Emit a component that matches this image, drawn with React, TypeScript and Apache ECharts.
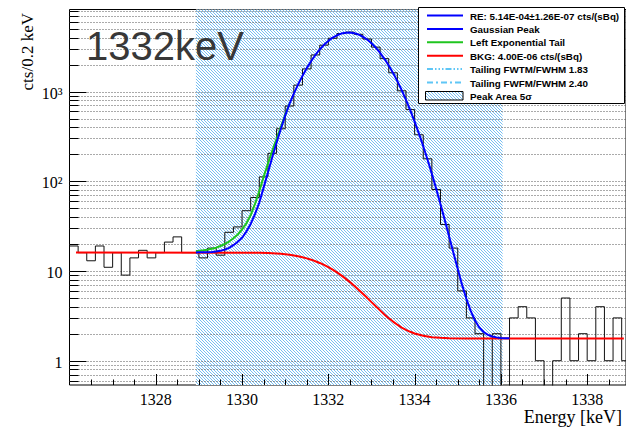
import { useEffect, useRef } from 'react';
import * as echarts from 'echarts';

// Axis ranges (energy in keV, counts per bin on a log scale)
const energyMin = 1326.0;
const energyMax = 1338.9;
const countMin = 0.536;
const countMax = 8222;

// Measured spectrum: 0.2 keV bins starting at 1326.0 keV
const binStart = 1326.0;
const binWidth = 0.2;
const binCounts = [
  19, 16, 13, 19, 11, 16, 9, 14, 17, 14, 16, 21, 24, 16, 16,
  14, 18, 15, 27, 31, 47, 66, 112, 205, 385,
  690, 1180, 1790, 2560, 3290, 3930, 4430, 4600, 4350, 3850,
  3130, 2330, 1620, 1020, 630, 330, 178, 81, 33, 18,
  6, 3, 2, 0, 2, 0,
  3, 4, 3, 1, 0, 1, 5, 1, 2, 1, 4, 1, 3, 1,
];

// Fitted Gaussian peak (on top of background)
const peakEnergy = [
  1328.93, 1329.0, 1329.1, 1329.2, 1329.3, 1329.4, 1329.5, 1329.6, 1329.7, 1329.8, 1329.9,
  1330.0, 1330.1, 1330.2, 1330.3, 1330.4, 1330.5, 1330.6, 1330.7, 1330.8, 1330.9,
  1331.0, 1331.1, 1331.2, 1331.3, 1331.4, 1331.5, 1331.6, 1331.7, 1331.8, 1331.9,
  1332.0, 1332.1, 1332.2, 1332.3, 1332.4, 1332.5, 1332.6, 1332.7, 1332.8, 1332.9,
  1333.0, 1333.1, 1333.2, 1333.3, 1333.4, 1333.5, 1333.6, 1333.7, 1333.8, 1333.9,
  1334.0, 1334.1, 1334.2, 1334.3, 1334.4, 1334.5, 1334.6, 1334.7, 1334.8, 1334.9,
  1335.0, 1335.1, 1335.2, 1335.3, 1335.4, 1335.5, 1335.6, 1335.7, 1335.8, 1335.9,
  1336.0, 1336.1, 1336.2,
];
const peakCounts = [
  16.1, 16.14, 16.17, 16.22, 16.33, 16.5, 16.8, 17.3, 18.1, 19.4, 21.2,
  23.5, 27.5, 33.5, 43, 58, 85, 125, 185, 270, 385,
  540, 730, 950, 1205, 1495, 1825, 2180, 2560, 2945, 3320,
  3675, 3990, 4245, 4430, 4535, 4555, 4480, 4325, 4095, 3800,
  3460, 3090, 2705, 2320, 1955, 1615, 1308, 1038, 809, 618,
  463, 340, 246, 174, 121, 82.7, 55.6, 36.9, 24.3, 15.9,
  10.5, 7.0, 4.9, 3.6, 2.8, 2.35, 2.09, 1.94, 1.86, 1.82,
  1.79, 1.78, 1.78,
];

// Left exponential tail component
const tailEnergy = [
  1328.93, 1329.0, 1329.1, 1329.2, 1329.3, 1329.4, 1329.5, 1329.6, 1329.7, 1329.8, 1329.9,
  1330.0, 1330.1, 1330.2, 1330.3, 1330.4, 1330.5, 1330.6, 1330.7, 1330.8, 1330.9,
  1331.0, 1331.1,
];
const tailCounts = [
  16.7, 16.8, 17.0, 17.3, 17.7, 18.2, 19.0, 20.0, 21.3, 23.2, 25.5,
  29, 34, 42, 56, 78, 112, 158, 218, 298, 405,
  552, 735,
];

// Step background
const bkgEnergy = [
  1326.15, 1330.4, 1330.6, 1330.8, 1330.9, 1331.0, 1331.1, 1331.2, 1331.3, 1331.4,
  1331.5, 1331.6, 1331.7, 1331.8, 1331.9, 1332.0, 1332.1, 1332.2, 1332.3, 1332.4,
  1332.5, 1332.6, 1332.7, 1332.8, 1332.9, 1333.0, 1333.1, 1333.2, 1333.3, 1333.4,
  1333.5, 1333.6, 1333.7, 1333.8, 1333.9, 1334.0, 1334.2, 1334.4, 1334.6, 1334.8,
  1335.2, 1338.85,
];
const bkgCounts = [
  16.1, 16.0, 15.85, 15.65, 15.53, 15.35, 15.14, 14.89, 14.59, 14.23,
  13.83, 13.37, 12.85, 12.29, 11.68, 11.03, 10.35, 9.65, 8.94, 8.22,
  7.52, 6.84, 6.19, 5.58, 5.02, 4.5, 4.04, 3.64, 3.28, 2.98,
  2.73, 2.52, 2.34, 2.21, 2.1, 2.01, 1.9, 1.83, 1.8, 1.78,
  1.77, 1.77,
];

// Integration window (peak area, 5 sigma)
const peakAreaLow = 1328.93;
const peakAreaHigh = 1336.04;

// Axis ticks and labels
const xMajorTicks = [1328, 1330, 1332, 1334, 1336, 1338];
const xTickLabels = ['1328', '1330', '1332', '1334', '1336', '1338'];
const xMinorTicks = [
  1326.5, 1327, 1327.5, 1328.5, 1329, 1329.5, 1330.5, 1331, 1331.5, 1332.5,
  1333, 1333.5, 1334.5, 1335, 1335.5, 1336.5, 1337, 1337.5, 1338.5,
];
const yMajorTicks = [1, 10, 100, 1000];
const yTickLabels = ['1', '10', '10²', '10³'];
const yMinorTicks = [
  0.6, 0.7, 0.8, 0.9,
  2, 3, 4, 5, 6, 7, 8, 9,
  20, 30, 40, 50, 60, 70, 80, 90,
  200, 300, 400, 500, 600, 700, 800, 900,
  2000, 3000, 4000, 5000, 6000, 7000, 8000,
];

// Legend entries
const legendLabels = [
  'RE: 5.14E-04±1.26E-07 cts/(sBq)',
  'Gaussian Peak',
  'Left Exponential Tail',
  'BKG: 4.00E-06 cts/(sBq)',
  'Tailing FWTM/FWHM 1.83',
  'Tailing FWFM/FWHM 2.40',
  'Peak Area 5σ',
];

const BLUE = '#0000ff';
const GREEN = '#1fc51f';
const RED = '#ff0000';
const LIGHT_BLUE = '#5ec6f6';
const SERIF = '"Liberation Serif", "Times New Roman", serif';
const SANS = '"Liberation Sans", Arial, Helvetica, sans-serif';

// Small diagonal hatch tile used for the peak-area fill
function hatchImage(): string {
  const c = document.createElement('canvas');
  c.width = 3;
  c.height = 3;
  const ctx = c.getContext('2d');
  if (ctx) {
    ctx.fillStyle = '#ffffff';
    ctx.fillRect(0, 0, 3, 3);
    ctx.fillStyle = 'rgb(118,190,242)';
    for (let i = 0; i < 3; i++) ctx.fillRect(i, i, 1, 1);
  }
  return c.toDataURL();
}

function buildOption() {
  const hatch = { image: hatchImage(), repeat: 'repeat', imageWidth: 3, imageHeight: 3 };

  const histData: number[][] = binCounts.map((c, i) => [
    +(binStart + i * binWidth).toFixed(2),
    c > 0 ? c : 0.05,
  ]);
  histData.push([
    +(binStart + binCounts.length * binWidth).toFixed(2),
    binCounts[binCounts.length - 1] > 0 ? binCounts[binCounts.length - 1] : 0.05,
  ]);

  const yTickData = [
    ...yMajorTicks.map((v, i) => [energyMin, v, 1, i]),
    ...yMinorTicks.map((v) => [energyMin, v, 0, -1]),
  ];
  const xTickData = [
    ...xMajorTicks.map((v, i) => [v, countMin, 1, i]),
    ...xMinorTicks.map((v) => [v, countMin, 0, -1]),
  ];

  const rowY = (i: number) => 15.5 + i * 13.4;
  const legendGraphics: any[] = [
    {
      type: 'rect',
      shape: { x: 418.5, y: 7.5, width: 206, height: 96 },
      style: { fill: '#ffffff', stroke: '#000000', lineWidth: 1 },
      z: 100,
    },
  ];
  const legendStyles = [
    { stroke: BLUE, lineDash: null },
    { stroke: BLUE, lineDash: null },
    { stroke: GREEN, lineDash: null },
    { stroke: RED, lineDash: null },
    { stroke: LIGHT_BLUE, lineDash: [6, 2, 1.5, 2, 1.5, 2, 1.5, 2] },
    { stroke: LIGHT_BLUE, lineDash: [6, 3, 2, 3] },
  ];
  legendStyles.forEach((s, i) => {
    legendGraphics.push({
      type: 'line',
      shape: { x1: 427, y1: rowY(i), x2: 463, y2: rowY(i) },
      style: { stroke: s.stroke, lineWidth: 2, lineDash: s.lineDash || undefined },
      z: 101,
    });
  });
  legendGraphics.push({
    type: 'rect',
    shape: { x: 425.5, y: 91.5, width: 37.5, height: 8.5 },
    style: { fill: hatch, stroke: '#000000', lineWidth: 1 },
    z: 101,
  });
  legendLabels.forEach((label, i) => {
    legendGraphics.push({
      type: 'text',
      x: 470,
      y: rowY(i) + 0.5,
      style: {
        text: label,
        font: `bold 9.8px ${SANS}`,
        fill: '#000000',
        align: 'left',
        verticalAlign: 'middle',
        textAlign: 'left',
        textVerticalAlign: 'middle',
      },
      z: 101,
    });
  });

  return {
    animation: false,
    backgroundColor: '#ffffff',
    grid: {
      left: 69.5,
      top: 9.5,
      width: 558.6,
      height: 375.5,
      show: true,
      borderColor: '#000000',
      borderWidth: 1,
      backgroundColor: 'transparent',
    },
    xAxis: {
      type: 'value',
      min: energyMin,
      max: energyMax,
      axisLine: { show: false },
      axisTick: { show: false },
      axisLabel: { show: false },
      splitLine: { show: false },
    },
    yAxis: {
      type: 'log',
      logBase: 10,
      min: countMin,
      max: countMax,
      axisLine: { show: false },
      axisTick: { show: false },
      axisLabel: { show: false },
      splitLine: { show: false },
    },
    graphic: [
      ...legendGraphics,
      {
        type: 'text',
        x: 86,
        y: 46,
        style: {
          text: '1332keV',
          font: `40px ${SANS}`,
          fill: '#383838',
          align: 'left',
          verticalAlign: 'middle',
          textAlign: 'left',
          textVerticalAlign: 'middle',
        },
        z: 90,
      },
      {
        type: 'text',
        x: 622,
        y: 417,
        style: {
          text: 'Energy [keV]',
          font: `18px ${SERIF}`,
          fill: '#000000',
          align: 'right',
          verticalAlign: 'middle',
          textAlign: 'right',
          textVerticalAlign: 'middle',
        },
        z: 90,
      },
      {
        type: 'text',
        x: 27,
        y: 13,
        rotation: Math.PI / 2,
        style: {
          text: 'cts/0.2 keV',
          font: `17px ${SERIF}`,
          fill: '#000000',
          align: 'right',
          verticalAlign: 'middle',
          textAlign: 'right',
          textVerticalAlign: 'middle',
        },
        z: 90,
      },
    ],
    series: [
      {
        name: 'Peak Area 5σ',
        type: 'custom',
        silent: true,
        z: 1,
        data: [[peakAreaLow, countMin, peakAreaHigh]],
        renderItem: (_params: any, api: any) => {
          const p1 = api.coord([api.value(0), countMax]);
          const p2 = api.coord([api.value(2), countMin]);
          return {
            type: 'rect',
            shape: { x: p1[0], y: p1[1], width: p2[0] - p1[0], height: p2[1] - p1[1] },
            style: { fill: hatch },
          };
        },
      },
      {
        name: 'yTicks',
        type: 'custom',
        silent: true,
        z: 2,
        data: yTickData,
        renderItem: (_params: any, api: any) => {
          const v = api.value(1);
          const major = api.value(2);
          const idx = api.value(3);
          const left = api.coord([energyMin, v]);
          const right = api.coord([energyMax, v]);
          const y = Math.round(left[1]) + 0.5;
          const children: any[] = [
            {
              type: 'line',
              shape: { x1: left[0], y1: y, x2: right[0], y2: y },
              style: { stroke: '#555555', lineWidth: 1, lineDash: [1, 2] },
            },
            {
              type: 'line',
              shape: { x1: left[0], y1: y, x2: left[0] + (major ? 17 : 9), y2: y },
              style: { stroke: '#000000', lineWidth: 1 },
            },
          ];
          if (major && idx >= 0) {
            children.push({
              type: 'text',
              x: left[0] - 7,
              y: y + 1,
              style: {
                text: yTickLabels[idx],
                font: `16px ${SERIF}`,
                fill: '#000000',
                align: 'right',
                verticalAlign: 'middle',
                textAlign: 'right',
                textVerticalAlign: 'middle',
              },
            });
          }
          return { type: 'group', children };
        },
      },
      {
        name: 'xTicks',
        type: 'custom',
        silent: true,
        z: 3,
        data: xTickData,
        renderItem: (_params: any, api: any) => {
          const v = api.value(0);
          const major = api.value(2);
          const idx = api.value(3);
          const p = api.coord([v, countMin]);
          const x = Math.round(p[0]) + 0.5;
          const children: any[] = [
            {
              type: 'line',
              shape: { x1: x, y1: p[1], x2: x, y2: p[1] - (major ? 11 : 5.5) },
              style: { stroke: '#000000', lineWidth: 1 },
            },
          ];
          if (major && idx >= 0) {
            children.push({
              type: 'text',
              x: p[0],
              y: p[1] + 6,
              style: {
                text: xTickLabels[idx],
                font: `16px ${SERIF}`,
                fill: '#000000',
                align: 'center',
                verticalAlign: 'top',
                textAlign: 'center',
                textVerticalAlign: 'top',
              },
            });
          }
          return { type: 'group', children };
        },
      },
      {
        name: 'Data',
        type: 'line',
        step: 'end',
        z: 4,
        showSymbol: false,
        symbol: 'none',
        clip: true,
        silent: true,
        data: histData,
        lineStyle: { color: '#111111', width: 1 },
      },
      {
        name: 'BKG',
        type: 'line',
        z: 5,
        showSymbol: false,
        symbol: 'none',
        silent: true,
        data: bkgEnergy.map((e, i) => [e, bkgCounts[i]]),
        lineStyle: { color: RED, width: 2 },
      },
      {
        name: 'Left Exponential Tail',
        type: 'line',
        z: 6,
        showSymbol: false,
        symbol: 'none',
        silent: true,
        data: tailEnergy.map((e, i) => [e, tailCounts[i]]),
        lineStyle: { color: GREEN, width: 2 },
      },
      {
        name: 'Gaussian Peak',
        type: 'line',
        z: 7,
        showSymbol: false,
        symbol: 'none',
        silent: true,
        data: peakEnergy.map((e, i) => [e, peakCounts[i]]),
        lineStyle: { color: BLUE, width: 2 },
      },
    ],
  };
}

export default function App() {
  const ref = useRef<HTMLDivElement>(null);
  useEffect(() => {
    if (!ref.current) return;
    const chart = echarts.init(ref.current, null, { renderer: 'svg' });
    chart.setOption(buildOption() as any);
    return () => chart.dispose();
  }, []);
  return (
    <div
      ref={ref}
      style={{ position: 'fixed', left: 0, top: 0, width: 626, height: 427, background: '#ffffff' }}
    />
  );
}
